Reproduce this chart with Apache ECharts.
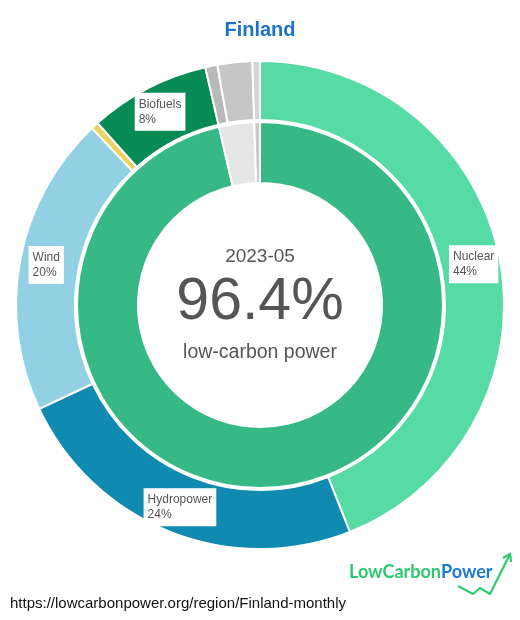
<!DOCTYPE html>
<html>
<head>
<meta charset="utf-8">
<script src="https://cdn.jsdelivr.net/npm/echarts@6/dist/echarts.min.js"></script>
<style>
  html, body { margin: 0; padding: 0; background: #fff; }
  #chart { width: 520px; height: 620px; }
</style>
</head>
<body>
<div id="chart"></div>
<script>
// Generation mix, Finland, 2023-05 (share of total, %)
const sourceNames  = ['Nuclear', 'Hydropower', 'Wind', 'Solar', 'Biofuels', 'Gas', 'Coal', 'Other'];
const sourceShares = [44.0, 24.0, 19.9, 0.5, 8.0, 0.8, 2.3, 0.5];
const sourceColors = ['#57dba4', '#118ab2', '#92d1e4', '#e9d35a', '#078b55', '#b9b9b9', '#c6c6c6', '#d4d4d4'];
const labelledSources = ['Nuclear', 'Hydropower', 'Wind', 'Biofuels'];

// Low-carbon vs fossil summary ring
const groupNames  = ['Low-carbon', 'Fossil', 'Other'];
const groupShares = [96.4, 3.1, 0.5];
const groupColors = ['#36b985', '#e6e6e6', '#c9c9c9'];

const periodLabel = '2023-05';
const headline = '96.4%';
const regionName = 'Finland';
const sourceUrl = 'https://lowcarbonpower.org/region/Finland-monthly';

const chart = echarts.init(document.getElementById('chart'), null, { renderer: 'canvas' });
const FONT = 'Liberation Sans, Arial, sans-serif';

const outerData = sourceNames.map((name, i) => ({
  name,
  value: sourceShares[i],
  itemStyle: { color: sourceColors[i] },
  label: { show: labelledSources.includes(name) }
}));
const innerData = groupNames.map((name, i) => ({
  name,
  value: groupShares[i],
  itemStyle: { color: groupColors[i] }
}));

chart.setOption({
  animation: false,
  title: {
    text: regionName,
    left: 'center',
    top: 15,
    textStyle: { color: '#1b73c9', fontSize: 20, fontWeight: 'bold', fontFamily: FONT }
  },
  series: [
    {
      type: 'pie',
      center: [260, 305],
      radius: [185, 244],
      startAngle: 90,
      clockwise: true,
      data: outerData,
      itemStyle: { borderColor: '#fff', borderWidth: 2 },
      label: {
        position: 'inside',
        formatter: p => '{t|' + p.name + '}\n{t|' + Math.round(p.value) + '%}',
        backgroundColor: '#fff',
        padding: [4, 4, 4, 4],
        rich: {
          t: { color: '#555', fontSize: 12, lineHeight: 15, fontFamily: FONT, align: 'left' }
        }
      },
      labelLine: { show: false },
      emphasis: { disabled: true }
    },
    {
      type: 'pie',
      center: [260, 305],
      radius: [122, 183],
      startAngle: 90,
      clockwise: true,
      data: innerData,
      itemStyle: { borderColor: '#fff', borderWidth: 2 },
      label: { show: false },
      labelLine: { show: false },
      emphasis: { disabled: true }
    }
  ],
  graphic: [
    {
      type: 'text', left: 'center', top: 247,
      style: { text: periodLabel, fontSize: 19, fill: '#555', fontFamily: FONT }
    },
    {
      type: 'text', left: 'center', top: 273,
      style: { text: headline, fontSize: 59, fill: '#555', fontFamily: FONT }
    },
    {
      type: 'text', left: 'center', top: 343,
      style: { text: 'low-carbon power', fontSize: 19.5, fill: '#555', fontFamily: FONT }
    },
    {
      type: 'text', left: 10, top: 596,
      style: { text: sourceUrl, fontSize: 15, fill: '#111', fontFamily: FONT }
    },
    {
      type: 'text', left: 349, top: 563,
      style: {
        text: '{a|LowCarbon}{b|Power}',
        rich: {
          a: { fontSize: 18, fontWeight: 'bold', fill: '#2ec96f', fontFamily: 'Lato, Noto Sans, sans-serif' },
          b: { fontSize: 18, fontWeight: 'bold', fill: '#1a78d6', fontFamily: 'Lato, Noto Sans, sans-serif' }
        }
      }
    },
    {
      type: 'polyline',
      shape: { points: [[458, 586], [473, 594], [480, 588], [490, 594], [509, 556]] },
      style: { stroke: '#2ec96f', lineWidth: 2.2, fill: null, lineJoin: 'miter' }
    },
    {
      type: 'polyline',
      shape: { points: [[503, 558], [510, 554], [511, 562]] },
      style: { stroke: '#2ec96f', lineWidth: 2.2, fill: null }
    }
  ]
});
</script>
</body>
</html>
